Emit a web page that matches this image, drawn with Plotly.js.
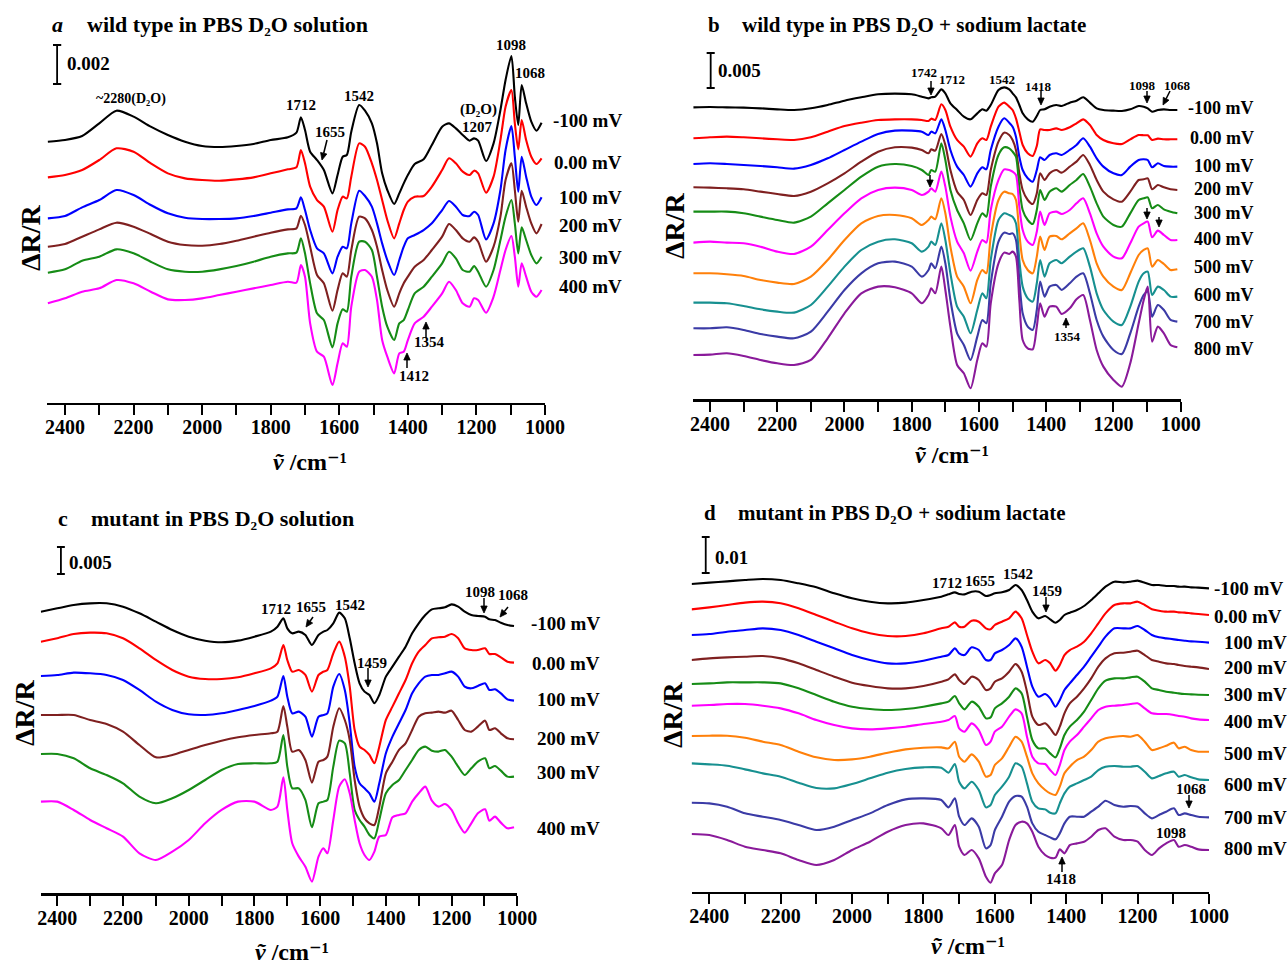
<!DOCTYPE html>
<html>
<head>
<meta charset="utf-8">
<script src="https://cdn.plot.ly/plotly-3.0.1.min.js"></script>
<style>
  html, body { margin: 0; padding: 0; background: #ffffff; }
  #chart { width: 1287px; height: 971px; }
</style>
</head>
<body>
<div id="chart"></div>
<script>
// ---------------- DATA (ΔR/R, offset-stacked, arbitrary units per panel) ----------------
// Panel a: wild type in PBS D2O solution
const WN_A = [2450,2400,2350,2300,2250,2200,2150,2100,2050,2000,1950,1900,1850,1800,1750,1725,1712,1700,1685,1665,1645,1620,1605,1590,1578,1565,1542,1525,1505,1490,1475,1460,1440,1425,1412,1400,1380,1354,1330,1300,1280,1260,1240,1220,1207,1195,1172,1150,1130,1115,1098,1088,1078,1068,1055,1040,1025,1010];
const A_M100 = [845,850,862,900,938,920,890,865,845,832,829,832,838,850,858,872,918,880,815,790,760,690,745,800,805,875,955,938,900,840,750,700,658,690,720,745,778,792,835,890,900,885,865,848,855,848,787,840,940,1030,1102,980,895,1015,960,905,878,902];
const A_0 = [738,745,760,790,825,815,780,750,735,730,728,732,738,750,762,768,820,780,710,670,650,575,640,680,675,740,840,830,780,730,670,610,555,600,640,665,680,682,710,760,795,780,755,745,758,750,692,740,850,950,1000,900,822,910,850,800,778,795];
const A_100 = [615,622,648,670,700,685,655,630,617,613,613,615,622,632,642,645,678,640,580,525,510,450,500,530,525,600,698,682,650,600,540,490,445,490,530,555,565,580,600,640,667,650,625,622,635,625,552,600,700,820,892,800,695,800,740,680,655,678];
const A_200 = [530,538,560,582,602,590,568,545,535,533,538,548,560,572,582,585,623,595,530,445,420,338,400,450,440,520,620,615,580,530,460,400,350,390,420,440,470,490,520,560,598,580,555,545,558,545,485,530,620,730,780,700,605,698,650,600,570,598];
const A_300 = [452,462,488,500,522,510,485,462,455,455,462,472,485,500,510,512,555,510,420,330,310,228,300,342,335,440,545,545,520,440,350,290,250,300,310,340,390,410,440,480,515,495,460,455,472,455,410,460,550,620,670,600,510,588,550,505,480,500];
const A_400 = [360,375,395,405,430,420,395,372,370,375,385,395,405,415,425,422,475,440,300,215,200,115,180,240,230,350,455,460,440,370,250,200,150,210,215,250,300,320,350,390,425,400,360,350,375,370,332,380,460,520,562,500,410,480,440,395,380,400];
const LABELS_A = ['-100 mV','0.00 mV','100 mV','200 mV','300 mV','400 mV'];

// Panel b: wild type in PBS D2O + sodium lactate
const WN_B = [2450,2400,2350,2300,2250,2200,2150,2100,2050,2000,1950,1900,1850,1800,1770,1750,1742,1730,1712,1700,1685,1665,1645,1625,1605,1590,1578,1565,1542,1525,1510,1500,1490,1480,1470,1455,1440,1428,1418,1405,1390,1370,1354,1330,1310,1290,1270,1250,1230,1200,1175,1150,1125,1110,1098,1085,1068,1050,1030,1010];
const B_M100 = [858,859,858,857,855,852,850,855,865,878,888,897,899,897,890,885,888,890,912,900,870,850,830,822,840,852,848,865,910,918,912,900,888,865,840,822,815,832,850,852,860,865,862,872,878,888,872,855,850,848,847,852,862,860,855,845,850,852,850,850];
const B_0 = [765,768,770,768,765,762,760,768,785,802,812,820,822,822,820,817,824,820,867,850,800,760,740,710,750,765,760,800,860,872,860,850,825,785,745,720,712,742,792,790,790,795,790,798,810,822,805,775,760,750,748,762,775,774,774,760,764,762,762,762];
const B_100 = [688,690,688,685,682,678,674,685,705,730,755,778,788,788,785,775,785,780,822,790,730,680,655,620,660,678,672,730,800,825,812,800,770,710,670,645,635,670,708,700,715,720,715,730,745,765,740,705,680,660,655,680,700,702,700,678,690,682,680,680];
const B_200 = [618,617,615,612,605,598,592,605,630,660,695,725,738,737,730,720,732,728,778,745,670,605,580,535,580,600,595,670,755,782,775,760,730,660,610,580,568,600,660,640,660,670,662,680,695,715,685,640,605,582,575,605,640,642,645,612,625,618,612,610];
const B_300 = [545,545,545,540,530,520,512,530,570,610,650,680,688,682,670,655,670,665,750,700,610,550,510,460,510,540,530,620,715,738,735,725,710,620,550,520,508,550,610,580,605,615,605,625,640,658,620,570,530,505,500,540,580,585,588,555,565,552,545,540];
const B_400 = [452,455,452,450,440,425,418,440,490,540,585,610,617,610,595,605,615,605,665,620,530,455,420,368,425,460,452,550,640,672,670,665,655,560,490,455,445,485,545,505,540,545,538,550,570,585,540,480,440,410,405,450,500,510,515,468,488,475,460,460];
const B_500 = [360,360,357,352,340,332,328,350,400,460,510,532,535,525,505,520,530,522,585,540,440,350,320,270,340,370,360,470,580,605,600,598,580,480,400,370,360,410,470,430,470,472,462,480,495,510,460,390,350,320,310,360,415,430,435,380,400,388,370,372];
const B_600 = [272,272,270,262,252,245,242,265,320,380,430,455,462,450,425,440,455,445,510,460,360,260,230,180,250,300,285,400,520,540,535,530,510,400,320,285,275,330,400,350,390,400,390,410,425,435,380,300,250,215,205,260,335,360,365,295,320,310,290,290];
const B_700 = [195,195,198,190,178,170,165,185,245,310,360,390,395,380,350,370,390,375,440,390,280,180,145,100,170,220,210,330,455,482,478,480,460,340,240,200,190,250,335,290,320,325,310,330,350,360,300,220,170,130,118,180,260,295,305,230,265,250,220,215];
const B_800 = [115,116,120,112,100,90,85,100,165,240,300,320,318,300,270,295,315,300,380,310,200,85,60,15,100,150,140,270,390,422,418,425,410,280,160,135,132,200,270,230,260,260,238,255,282,295,220,130,80,40,20,90,210,280,320,155,200,180,145,138];
const LABELS_B = ['-100 mV','0.00 mV','100 mV','200 mV','300 mV','400 mV','500 mV','600 mV','700 mV','800 mV'];

// Panel c: mutant in PBS D2O solution
const WN_C = [2450,2400,2350,2300,2250,2200,2150,2100,2050,2000,1950,1900,1850,1800,1750,1730,1712,1700,1685,1665,1645,1625,1605,1590,1578,1560,1542,1525,1510,1495,1480,1465,1450,1435,1420,1400,1380,1360,1340,1320,1300,1280,1260,1240,1220,1200,1180,1160,1140,1120,1098,1085,1068,1050,1030,1010];
const C_M100 = [905,915,925,930,930,920,900,875,850,830,818,813,818,830,845,860,885,855,840,845,835,805,835,845,850,870,902,885,825,750,690,665,655,630,655,710,740,770,800,840,870,895,912,915,918,927,920,905,895,892,890,882,880,872,865,862];
const C_0 = [815,825,838,842,840,825,795,760,730,710,703,703,708,720,735,750,805,760,725,730,715,665,715,725,730,780,815,770,680,550,500,490,475,450,500,580,620,660,700,750,785,805,825,828,830,838,825,795,790,790,795,778,778,768,755,752];
const C_100 = [712,715,722,720,715,700,670,635,610,597,595,600,610,622,638,650,712,650,600,605,590,530,590,595,600,680,718,670,570,440,390,375,360,335,390,480,530,570,610,660,690,710,715,715,720,725,710,680,675,682,690,670,672,660,642,638];
const C_200 = [595,595,595,580,568,545,505,468,475,490,505,518,528,535,540,545,622,560,485,490,460,392,455,460,470,560,615,580,520,400,320,285,270,265,320,420,455,490,510,550,590,600,602,605,602,608,580,550,545,560,578,550,555,540,525,522];
const C_300 = [478,478,465,435,415,390,350,330,345,370,400,430,448,450,450,455,535,440,375,375,340,258,330,335,340,440,518,510,420,310,280,260,235,225,280,360,385,400,430,460,490,500,488,485,490,470,440,415,435,455,465,435,442,428,410,410];
const C_400 = [335,335,310,280,255,230,180,160,185,220,270,310,335,335,310,320,408,310,210,170,140,95,170,195,180,280,380,402,360,280,210,175,160,185,230,235,288,295,300,335,360,380,338,320,328,310,270,242,270,300,312,278,290,272,255,258];
const LABELS_C = ['-100 mV','0.00 mV','100 mV','200 mV','300 mV','400 mV'];

// Panel d: mutant in PBS D2O + sodium lactate
const WN_D = [2450,2400,2350,2300,2250,2200,2150,2100,2050,2000,1950,1900,1850,1800,1750,1730,1712,1700,1685,1665,1645,1625,1612,1600,1580,1560,1542,1525,1510,1495,1478,1459,1445,1430,1418,1405,1390,1370,1350,1330,1310,1290,1265,1240,1220,1200,1180,1160,1140,1120,1098,1085,1068,1050,1030,1000];
const D_M100 = [928,932,936,940,943,940,930,918,900,885,875,870,872,880,890,897,903,898,897,905,905,892,895,900,903,910,925,910,880,845,825,832,822,812,820,835,842,850,862,880,900,920,935,933,935,938,932,925,925,922,922,920,920,918,917,915];
const D_0 = [852,858,865,872,875,870,855,835,815,795,780,772,772,780,795,800,813,800,800,818,815,795,792,805,815,825,845,825,775,725,690,700,690,668,685,715,730,740,755,780,810,840,865,870,870,875,865,852,848,845,845,843,842,840,838,835];
const D_100 = [775,778,785,790,795,790,775,755,735,715,700,690,690,698,710,715,735,720,715,738,730,700,700,720,730,745,765,740,680,620,590,598,585,560,580,610,630,655,680,710,740,770,795,795,795,802,790,775,768,765,762,760,758,756,755,752];
const D_200 = [700,705,708,710,712,705,690,670,650,632,622,615,615,622,635,642,657,640,628,650,640,610,615,635,645,665,688,665,605,530,505,510,495,475,500,540,570,590,615,645,680,705,720,722,725,728,715,700,695,690,688,685,682,680,678,673];
const D_300 = [628,630,633,633,633,630,615,595,575,560,553,550,553,560,570,575,592,570,552,575,560,525,528,555,570,590,615,600,530,460,435,435,420,408,435,475,500,520,545,580,615,638,645,645,648,650,635,615,610,605,602,600,598,597,596,595];
const D_400 = [563,565,568,568,563,555,540,520,505,495,492,495,500,508,515,520,532,495,485,510,490,445,455,485,500,530,552,540,470,410,390,388,370,355,385,430,455,475,500,525,550,560,563,565,568,570,555,540,538,538,535,532,530,525,522,520];
const D_500 = [472,473,473,467,455,445,425,408,400,402,410,422,432,437,438,435,455,410,395,417,395,350,355,385,405,440,470,455,410,360,330,310,300,295,320,360,380,400,410,430,455,465,470,472,470,475,455,430,435,443,452,435,440,430,425,425];
const D_600 = [390,387,383,372,360,350,332,316,315,328,345,362,373,378,377,362,388,335,315,335,310,258,265,295,320,350,390,380,330,275,255,252,242,240,270,300,320,330,340,350,370,380,382,380,380,382,365,345,352,360,365,350,355,348,342,340];
const D_700 = [272,270,260,240,230,220,205,190,200,220,240,265,282,285,280,258,285,230,205,225,200,135,145,190,230,275,292,290,260,210,185,175,168,162,180,210,230,230,230,245,260,278,265,260,262,260,240,225,235,245,255,235,240,235,230,228];
const D_800 = [178,175,160,140,130,120,100,85,100,130,155,185,205,210,195,175,205,140,115,130,105,50,32,60,85,160,205,215,210,185,140,115,107,107,132,120,145,150,155,170,190,195,170,160,160,155,130,115,135,150,160,140,145,140,132,130];
const LABELS_D = ['-100 mV','0.00 mV','100 mV','200 mV','300 mV','400 mV','500 mV','600 mV','700 mV','800 mV'];

// Axis ticks (labelled every 200, unlabelled minor ticks every 100)
const TICK_VALS = [2400,2200,2000,1800,1600,1400,1200,1000];
const TICK_TEXT = ['2400','2200','2000','1800','1600','1400','1200','1000'];
const MINOR_TICK_VALS = [2300,2100,1900,1700,1500,1300,1100];

// Scale bars (length in the panel's data units, and the ΔR/R value it stands for)
const SCALE_A = {len: 117, text: '0.002'};
const SCALE_B = {len: 105, text: '0.005'};
const SCALE_C = {len: 81,  text: '0.005'};
const SCALE_D = {len: 108, text: '0.01'};

// ---------------- STYLE ----------------
const W = 1287, H = 971;
const FONT = "'Liberation Serif', 'Times New Roman', Times, 'DejaVu Serif', serif";
const COL6 = ['#000000','#ff0000','#0000ff','#7f2020','#168c16','#ff00ff'];
const COL10 = ['#000000','#ff0000','#0000ff','#7f2020','#168c16','#ff00ff','#ff800a','#179090','#3b3ba6','#8a1a9a'];

const panels = [
  {ax:'', wn: WN_A, series:[A_M100,A_0,A_100,A_200,A_300,A_400], colors: COL6,
   xdom:[47/W, 545/W], xr:[2452.5,1000], ydom:[1-402.7/H, 1-40/H], yr:[62,1150]},
  {ax:'2', wn: WN_B, series:[B_M100,B_0,B_100,B_200,B_300,B_400,B_500,B_600,B_700,B_800], colors: COL10,
   xdom:[693.3/W, 1180.7/W], xr:[2449.7,1000], ydom:[1-399.3/H, 1-40/H], yr:[-18,1060]},
  {ax:'3', wn: WN_C, series:[C_M100,C_0,C_100,C_200,C_300,C_400], colors: COL6,
   xdom:[40.7/W, 517.3/W], xr:[2450.5,1000], ydom:[1-893.3/H, 1-530/H], yr:[60,1150]},
  {ax:'4', wn: WN_D, series:[D_M100,D_0,D_100,D_200,D_300,D_400,D_500,D_600,D_700,D_800], colors: COL10,
   xdom:[691.7/W, 1209/W], xr:[2449.3,1000], ydom:[1-891.7/H, 1-525/H], yr:[5,1105]}
];

const traces = [];
const layout = {
  width: W, height: H,
  margin: {l:0, r:0, t:0, b:0},
  paper_bgcolor: '#ffffff', plot_bgcolor: 'rgba(0,0,0,0)',
  showlegend: false,
  font: {family: FONT, color: '#000000'},
  annotations: [], shapes: []
};

panels.forEach(p => {
  p.series.forEach((s, i) => {
    traces.push({
      x: p.wn, y: s, type: 'scatter', mode: 'lines',
      xaxis: 'x' + p.ax, yaxis: 'y' + p.ax,
      line: {color: p.colors[i], width: 2.1, shape: 'spline', smoothing: 0.7},
      hoverinfo: 'skip'
    });
  });
  layout['xaxis' + p.ax] = {
    domain: p.xdom, range: p.xr, anchor: 'y' + p.ax,
    showgrid: false, zeroline: false, showline: true, linecolor: '#000', linewidth: 2.5,
    ticks: 'outside', ticklen: 10, tickwidth: 2, tickcolor: '#000',
    tickmode: 'array', tickvals: TICK_VALS, ticktext: TICK_TEXT,
    minor: {tickmode: 'array', tickvals: MINOR_TICK_VALS, ticks: 'outside',
            ticklen: 10, tickwidth: 2, tickcolor: '#000', showgrid: false},
    tickfont: {family: FONT, size: 20, color: '#000', weight: 'bold'},
    ticklabelstandoff: -5,
    fixedrange: true
  };
  layout['yaxis' + p.ax] = {
    domain: p.ydom, range: p.yr, anchor: 'x' + p.ax,
    visible: false, showgrid: false, zeroline: false, fixedrange: true
  };
});

// helpers for paper placement
const PX = x => x / W, PY = y => 1 - y / H;
function txt(t, x, y, size, xanchor, extra) {
  layout.annotations.push(Object.assign({
    text: t, x: PX(x), y: PY(y), xref: 'paper', yref: 'paper',
    showarrow: false, xanchor: xanchor || 'center', yanchor: 'middle',
    font: {family: FONT, size: size, color: '#000', weight: 'bold'}
  }, extra || {}));
}
// arrow drawn as shapes: head at (hx,hy), tail offset (ax,ay) in pixels
function arrow(hx, hy, ax, ay) {
  const tx = hx + ax, ty = hy + ay;
  const L = Math.hypot(ax, ay), ux = -ax / L, uy = -ay / L;
  const hl = 7, hw = 3.2;
  const bx = hx - ux * hl, by = hy - uy * hl;
  const p1x = bx - uy * hw, p1y = by + ux * hw, p2x = bx + uy * hw, p2y = by - ux * hw;
  layout.shapes.push({type: 'line', xref: 'paper', yref: 'paper',
    x0: PX(tx), y0: PY(ty), x1: PX(bx), y1: PY(by), line: {color: '#000', width: 1.5}});
  layout.shapes.push({type: 'path', xref: 'paper', yref: 'paper',
    path: `M ${PX(hx)} ${PY(hy)} L ${PX(p1x)} ${PY(p1y)} L ${PX(p2x)} ${PY(p2y)} Z`,
    fillcolor: '#000', line: {color: '#000', width: 0.8}});
}
function scaleBar(ax, wn, ybot, sc, capHalf) {
  const base = {type: 'line', xref: 'x' + ax, yref: 'y' + ax, line: {color: '#000', width: 1.8}};
  layout.shapes.push(Object.assign({x0: wn, x1: wn, y0: ybot, y1: ybot + sc.len}, base));
  layout.shapes.push(Object.assign({x0: wn - capHalf, x1: wn + capHalf, y0: ybot, y1: ybot}, base));
  layout.shapes.push(Object.assign({x0: wn - capHalf, x1: wn + capHalf, y0: ybot + sc.len, y1: ybot + sc.len}, base));
}

// Titles
txt('a', 50, 24, 22, 'left', {font: {family: FONT, size: 22, color: '#000', weight: 'bold', style: 'italic'}});
txt('wild type in PBS D₂O solution', 85, 24, 22, 'left');
txt('b', 706, 25, 21, 'left');
txt('wild type in PBS D₂O + sodium lactate', 740, 25, 21, 'left');
txt('c', 56, 518, 22, 'left');
txt('mutant in PBS D₂O solution', 89, 518, 22, 'left');
txt('d', 702, 513, 21, 'left');
txt('mutant in PBS D₂O + sodium lactate', 736, 513, 21, 'left');

// Y titles
[[30,238],[675,226],[24,713],[672,715]].forEach(([x,y]) =>
  txt('ΔR/R', x, y, 28, 'center', {textangle: -90}));
// X titles
[[310,462],[952,455],[292,952],[968,946]].forEach(([x,y]) =>
  txt('<i>ṽ</i> /cm⁻¹', x, y, 24, 'center'));

// Scale bars
scaleBar('', 2423, 1018, SCALE_A, 12);  txt(SCALE_A.text, 65, 63, 19, 'left');
scaleBar('2', 2398, 916, SCALE_B, 12);  txt(SCALE_B.text, 716, 71, 19, 'left');
scaleBar('3', 2389, 1018, SCALE_C, 12); txt(SCALE_C.text, 67, 562, 19, 'left');
scaleBar('4', 2410, 961, SCALE_D, 11);  txt(SCALE_D.text, 713, 557, 19, 'left');

// Potential labels
[120,162,197,226,257,287].forEach((y,i) => txt(LABELS_A[i], 624, y, 19, 'right'));
[108,138,166,189,213,239,267,295,322,349].forEach((y,i) => txt(LABELS_B[i], 1256, y, 18, 'right'));
[623,663,699,738,772,828].forEach((y,i) => txt(LABELS_C[i], 602, y, 19, 'right'));
[588,616,642,667,694,721,753,784,817,848].forEach((y,i) => txt(LABELS_D[i], i < 2 ? 1212 : 1222, y, 19, 'left'));

// Peak labels panel a
txt('~2280(D₂O)', 131, 99, 14);
txt('1712', 301, 105, 15);
txt('1655', 330, 132, 15);
txt('1542', 359, 96, 15);
txt('(D₂O)', 478, 110, 15);
txt('1207', 477, 127, 15);
txt('1098', 511, 45, 15);
txt('1068', 530, 73, 15);
txt('1354', 430, 342, 15);
txt('1412', 414, 376, 15);
arrow(322, 160, 5, -20);
arrow(426, 322, 0, 16);
arrow(407, 353, 0, 15);

// Peak labels panel b
txt('1742', 924, 73, 13);
txt('1712', 952, 79, 13);
txt('1542', 1002, 79, 13);
txt('1418', 1038, 86, 13);
txt('1098', 1142, 85, 13);
txt('1068', 1177, 85, 13);
txt('1354', 1067, 336, 13);
arrow(931, 95, 0, -14);
arrow(1041, 105, 0, -14);
arrow(1147, 103, 0, -12);
arrow(1163, 105, 7, -14);
arrow(930, 187, 0, -12);
arrow(1147, 219, 0, -11);
arrow(1159, 227, 0, -10);
arrow(1066, 318, 0, 10);

// Peak labels panel c
txt('1712', 276, 609, 15);
txt('1655', 311, 607, 15);
txt('1542', 350, 605, 15);
txt('1459', 372, 663, 15);
txt('1098', 480, 592, 15);
txt('1068', 513, 595, 15);
arrow(306, 627, 7, -10);
arrow(368, 687, 0, -19);
arrow(484, 613, 0, -15);
arrow(500, 617, 8, -10);

// Peak labels panel d
txt('1712', 947, 583, 15);
txt('1655', 980, 581, 15);
txt('1542', 1018, 574, 15);
txt('1459', 1047, 591, 15);
txt('1068', 1191, 789, 15);
txt('1098', 1171, 833, 15);
txt('1418', 1061, 879, 15);
arrow(1046, 612, 0, -15);
arrow(1189, 808, 0, -13);
arrow(1062, 857, 0, 15);

Plotly.newPlot('chart', traces, layout, {staticPlot: true, displayModeBar: false});
</script>
</body>
</html>
